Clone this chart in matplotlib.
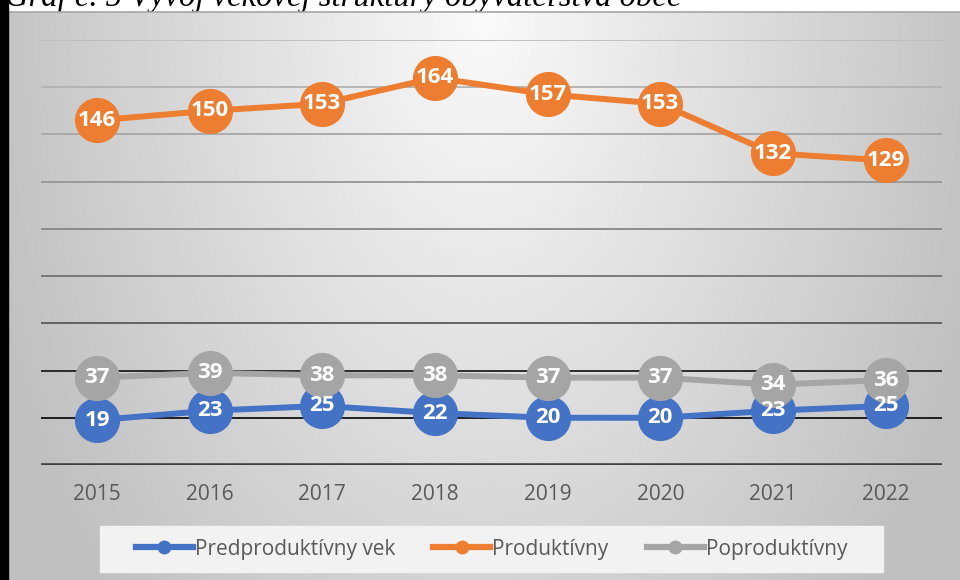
import numpy as np
import matplotlib
matplotlib.use('Agg')
import matplotlib.pyplot as plt
from matplotlib.patches import Rectangle
from matplotlib.lines import Line2D

years = ['2015', '2016', '2017', '2018', '2019', '2020', '2021', '2022']
predproduktivny = [19, 23, 25, 22, 20, 20, 23, 25]
produktivny = [146, 150, 153, 164, 157, 153, 132, 129]
poproduktivny = [37, 39, 38, 38, 37, 37, 34, 36]
series_names = ['Predproduktívny vek', 'Produktívny', 'Poproduktívny']
series_colors = ['#4472C4', '#ED7D31', '#A5A5A5']
title = 'Graf č. 5 Vývoj vekovej štruktúry obyvateľstva obce'

W, H = 960, 580
fig = plt.figure(figsize=(W / 100, H / 100), dpi=100)
fig.patch.set_facecolor('white')

# title of the document, cut off by the chart area
fig.text(5 / W, 1 - 6 / H, title, family='Liberation Serif', style='italic',
         fontsize=23.5, va='baseline', ha='left', zorder=-1)

# chart area with gray radial gradient
bg = fig.add_axes([8 / W, 0, 1 - 8 / W, 1 - 12 / H])
yy, xx = np.mgrid[0:1:300j, 0:1:500j]
r = np.sqrt(((xx - 0.5) / 0.55) ** 2 + (yy / 1.5) ** 2)
shade = 0.98 - 0.23 * np.clip(r, 0, 1)
bg.imshow(shade, cmap='gray', vmin=0, vmax=1, aspect='auto',
          interpolation='bilinear', extent=[0, 1, 1, 0])
bg.axis('off')
fig.add_artist(Line2D([8 / W, 1], [1 - 12 / H, 1 - 12 / H], transform=fig.transFigure,
                      color='#a6a6a6', lw=1.2))
fig.patches.append(Rectangle((0, 0), 8 / W, 1, transform=fig.transFigure,
                             color='black', zorder=5))

# plot area
ax = fig.add_axes([40.6 / W, 1 - 465 / H, (942 - 40.6) / W, (465 - 40) / H])
ax.patch.set_alpha(0)
x = np.arange(len(years))
ax.set_xlim(-0.5, len(years) - 0.5)
ax.set_ylim(0, 180)
ax.set_yticks(range(0, 181, 20))

grid_colors = ['#404040', '#111111', '#1e1e1e', '#5a5a5a', '#727272',
               '#858585', '#969696', '#a6a6a6', '#b2b2b2', '#bdbdbd']
for tick, c in zip(ax.get_yticks(), grid_colors):
    if tick == 0:
        ax.axhline(tick, color=c, lw=2.6, zorder=1)
    else:
        ax.axhline(tick, color=c, lw=1.3, zorder=1)

for s in ax.spines.values():
    s.set_visible(False)

all_series = [predproduktivny, produktivny, poproduktivny]
for i, (vals, col) in enumerate(zip(all_series, series_colors)):
    ax.plot(x, vals, color=col, lw=4.3, marker='o', ms=31.5, mec=col,
            zorder=3 + i, clip_on=False, solid_capstyle='round')
    for xi, v in zip(x, vals):
        ax.text(xi, v, str(v), color='white', fontsize=16, fontweight='bold',
                family='Open Sans', ha='center', va='center', zorder=10)

ax.set_xticks(x, years)
ax.tick_params(axis='x', length=0, pad=14, labelsize=15, labelcolor='#595959')
ax.tick_params(axis='y', length=0, labelleft=False)
for lbl in ax.get_xticklabels():
    lbl.set_family('Open Sans')

# legend
fig.patches.append(Rectangle((100 / W, 1 - 572 / H), 783 / W, 46 / H,
                             transform=fig.transFigure, color='#f2f2f2', zorder=1))
handles = [Line2D([], [], color=c, lw=4.5, marker='o', ms=9) for c in series_colors]
leg = fig.legend(handles, series_names, loc='center', bbox_to_anchor=(491.5 / W, 1 - 549 / H),
                 ncol=3, frameon=False, handlelength=2.74, handletextpad=0.1,
                 columnspacing=1.83, prop={'family': 'Open Sans', 'size': 15})
for t in leg.get_texts():
    t.set_color('#595959')
leg.set_zorder(6)

fig.savefig('out.png', dpi=100)
